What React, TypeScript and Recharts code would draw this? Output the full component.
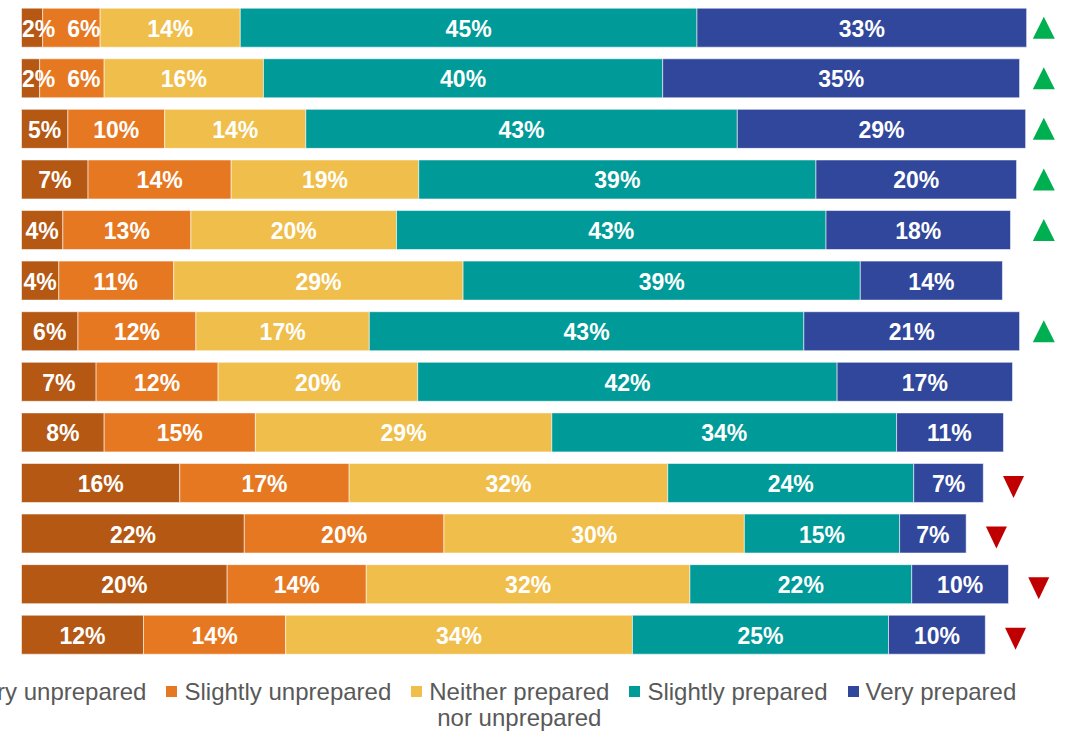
import React from 'react';
import { BarChart, Bar, XAxis, YAxis, Legend, LabelList } from 'recharts';

// rows top to bottom (category names sit off the left edge in the source)
const categories = [
  'Item 1', 'Item 2', 'Item 3', 'Item 4', 'Item 5', 'Item 6', 'Item 7',
  'Item 8', 'Item 9', 'Item 10', 'Item 11', 'Item 12', 'Item 13',
];

const veryUnprepared = [2.1, 1.8, 4.6, 6.6, 4.1, 3.7, 5.6, 7.4, 8.2, 15.7, 22.1, 20.4, 12.1];
const slightlyUnprepared = [5.7, 6.4, 9.6, 14.2, 12.7, 11.4, 11.7, 12.1, 15.0, 16.8, 19.8, 13.8, 14.1];
const neither = [13.9, 15.8, 14.0, 18.6, 20.4, 28.7, 17.2, 19.8, 29.4, 31.6, 29.8, 32.1, 34.4];
const slightlyPrepared = [45.3, 39.6, 42.8, 39.4, 42.6, 39.4, 43.1, 41.6, 34.2, 24.4, 15.4, 22.0, 25.4];
const veryPrepared = [32.7, 35.4, 28.6, 19.9, 18.3, 14.1, 21.4, 17.4, 10.6, 6.9, 6.6, 9.6, 9.6];

// significant change vs. previous wave
const trend: Array<'up' | 'down' | null> = [
  'up', 'up', 'up', 'up', 'up', null, 'up', null, null, 'down', 'down', 'down', 'down',
];

const seriesNames = [
  'Very unprepared',
  'Slightly unprepared',
  'Neither prepared\nnor unprepared',
  'Slightly prepared',
  'Very prepared',
];
const seriesKeys = ['vu', 'su', 'ne', 'sp', 'vp'];
const seriesValues = [veryUnprepared, slightlyUnprepared, neither, slightlyPrepared, veryPrepared];
const colors = ['#B45814', '#E67822', '#F0BE4B', '#009B98', '#31479C'];

const UP_COLUMN = 101.4; // green markers sit in one column
const DOWN_GAP = 3.0; // red markers follow the bar end

const FONT = '"Liberation Sans", Arial, Helvetica, sans-serif';
const LABEL_SIZE = 23;
const SHIFT = 60;

const data = categories.map((name, i) => {
  const row: Record<string, any> = { name };
  let total = 0;
  seriesKeys.forEach((k, s) => {
    row[k] = seriesValues[s][i];
    total += seriesValues[s][i];
  });
  const t = trend[i];
  row.gap = t === 'up' ? UP_COLUMN - total : t === 'down' ? DOWN_GAP : 0.001;
  return row;
});

const pct = (v: number) => `${Math.round(v)}%`;
const labelWidth = (t: string) => {
  let w = 0;
  for (const c of t) w += c === '%' ? 0.889 : 0.556;
  return w * LABEL_SIZE;
};

const makeLabel = (s: number) => (props: any) => {
  const x = Number(props.x);
  const y = Number(props.y);
  const width = Number(props.width);
  const height = Number(props.height);
  const index = categories.indexOf(props.value);
  if (index < 0) return null;
  const v = seriesValues[s][index];
  if (!v || width <= 0) return null;
  const scale = width / v;
  const text = pct(v);
  const w = labelWidth(text);
  let left = x + width / 2 - w / 2;
  if (s === 0) left = Math.max(left, x + 0.5);
  if (s === 1) {
    // keep clear of a first label that got pushed inside the bar
    const v0 = seriesValues[0][index];
    const w0px = v0 * scale;
    const start = x - w0px;
    const w0 = labelWidth(pct(v0));
    const left0 = Math.max(start + w0px / 2 - w0 / 2, start + 0.5);
    left = Math.max(left, left0 + w0 + 12);
  }
  return (
    <text
      x={left}
      y={y + height / 2 + 1}
      fill="#fff"
      fontFamily={FONT}
      fontSize={LABEL_SIZE}
      fontWeight="bold"
      textAnchor="start"
      dominantBaseline="central"
    >
      {text}
    </text>
  );
};

const renderMarker = (props: any) => {
  const index = categories.indexOf(props.value);
  const t = index >= 0 ? trend[index] : null;
  if (!t) return null;
  const cx = Number(props.x) + Number(props.width);
  const cy = Number(props.y) + Number(props.height) / 2;
  if (t === 'up') {
    return <polygon points={`${cx - 11},${cy + 11} ${cx + 11},${cy + 11} ${cx},${cy - 11}`} fill="#00B050" />;
  }
  return <polygon points={`${cx - 10.5},${cy - 7} ${cx + 10.5},${cy - 7} ${cx},${cy + 15}`} fill="#C00000" />;
};

const renderLegend = (props: any) => {
  const items = (props.payload || [])
    .filter((p: any) => seriesKeys.includes(p.dataKey))
    .sort((a: any, b: any) => seriesKeys.indexOf(a.dataKey) - seriesKeys.indexOf(b.dataKey));
  return (
    <div style={{ display: 'flex', alignItems: 'flex-start', fontFamily: FONT, fontSize: 24, color: '#595959', lineHeight: '26px' }}>
      {items.map((it: any) => (
        <div key={it.dataKey} style={{ display: 'flex', alignItems: 'flex-start', marginRight: 20, flex: 'none' }}>
          <span style={{ width: 11, height: 11, background: it.color, marginTop: 7, marginRight: 7, flex: 'none' }} />
          <span style={{ whiteSpace: 'pre-line', textAlign: 'center' }}>{it.value}</span>
        </div>
      ))}
    </div>
  );
};

const App: React.FC = () => {
  return (
    <div style={{ position: 'fixed', left: 0, top: 0, width: 1069, height: 731, overflow: 'hidden', background: '#fff' }}>
      <div style={{ position: 'absolute', left: -SHIFT, top: 0 }}>
        <BarChart
          width={1140}
          height={731}
          data={data}
          layout="vertical"
          barSize={39}
          margin={{ top: 2.2, right: 10, bottom: 71.2, left: SHIFT + 21.5 }}
        >
          <XAxis type="number" domain={[0, 104]} hide />
          <YAxis type="category" dataKey="name" hide />
          <Legend
            layout="horizontal"
            verticalAlign="middle"
            align="center"
            content={renderLegend}
            wrapperStyle={{ left: SHIFT - 49, top: 679, width: 1200 }}
          />
          {seriesKeys.map((k, s) => (
            <Bar
              key={k}
              dataKey={k}
              name={seriesNames[s]}
              stackId="a"
              fill={colors[s]}
              stroke="rgba(255,255,255,0.55)"
              strokeWidth={1}
              isAnimationActive={false}
            >
              <LabelList dataKey="name" content={makeLabel(s)} />
            </Bar>
          ))}
          <Bar dataKey="gap" stackId="a" fill="transparent" legendType="none" isAnimationActive={false}>
            <LabelList dataKey="name" content={renderMarker} />
          </Bar>
        </BarChart>
      </div>
    </div>
  );
};

export default App;
